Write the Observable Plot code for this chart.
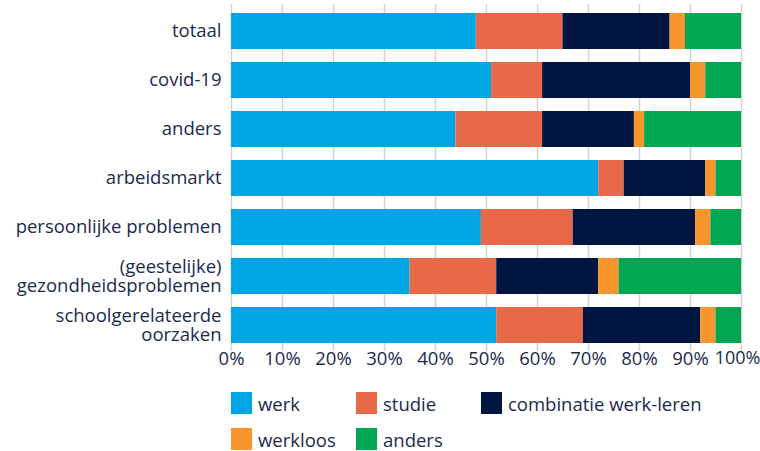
<!DOCTYPE html>
<html>
<head>
<meta charset="utf-8">
<script src="https://cdn.jsdelivr.net/npm/d3@7"></script>
<script src="https://cdn.jsdelivr.net/npm/@observablehq/plot@0.6"></script>
<style>
  html, body { margin: 0; padding: 0; background: #fff; }
  body { width: 760px; height: 451px; overflow: hidden; font-family: "Open Sans", sans-serif; color: #1b2a4e; }
  #chart { position: absolute; left: 0; top: 0; }
  #legend { position: absolute; left: 231px; top: 392px; width: 520px; display: flex; flex-wrap: wrap; row-gap: 14px; }
  .item { width: 125px; display: flex; align-items: center; font-size: 18.5px; height: 22px; white-space: nowrap; }
  .item.wide { width: 250px; }
  .sw { width: 21px; height: 22px; margin-right: 6px; flex: none; }
</style>
</head>
<body>
<div id="chart"></div>
<div id="legend"></div>
<script>
const categories = ["totaal", "covid-19", "anders", "arbeidsmarkt", "persoonlijke problemen", "(geestelijke)\ngezondheidsproblemen", "schoolgerelateerde\noorzaken"];
const seriesNames = ["werk", "studie", "combinatie werk-leren", "werkloos", "anders"];
const seriesColors = ["#00a5e3", "#e8694a", "#001540", "#f7952f", "#00a651"];
const werk      = [48, 51, 44, 72, 49, 35, 52];
const studie    = [17, 10, 17, 5, 18, 17, 17];
const combinatie= [21, 29, 18, 16, 24, 20, 23];
const werkloos  = [3, 3, 2, 2, 3, 4, 3];
const andersS   = [11, 7, 19, 5, 6, 24, 5];
const xTicks = [0, 10, 20, 30, 40, 50, 60, 70, 80, 90, 100];

const seriesValues = [werk, studie, combinatie, werkloos, andersS];
const data = [];
categories.forEach((c, i) => {
  seriesNames.forEach((s, j) => data.push({category: c, series: s, value: seriesValues[j][i]}));
});

const chart = Plot.plot({
  width: 760,
  height: 374,
  marginLeft: 231,
  marginRight: 19,
  marginTop: 4,
  marginBottom: 23,
  style: {fontFamily: "Open Sans, sans-serif", fontSize: "18.5px", color: "#1b2a4e", background: "#fff"},
  x: {domain: [0, 100], ticks: xTicks, tickFormat: d => d + "%", tickSize: 0, tickPadding: 0, label: null},
  y: {domain: categories, paddingInner: 0.27, paddingOuter: 0.135, tickSize: 0, tickPadding: 10, label: null},
  color: {domain: seriesNames, range: seriesColors},
  marks: [
    Plot.gridX(xTicks, {stroke: "#d2d2d2", strokeOpacity: 1, strokeWidth: 1.5}),
    Plot.barX(data, {x: "value", y: "category", fill: "series", order: seriesNames}),
    Plot.axisY({tickSize: 0, tickPadding: 10, fontSize: 18.5, lineHeight: 1.0, fill: "#1b2a4e"}),
    Plot.axisX(xTicks.slice(0, -1), {tickFormat: d => d + "%", tickSize: 0, tickPadding: 0, fontSize: 18.5, fill: "#1b2a4e"}),
    Plot.axisX(xTicks.slice(-1), {tickFormat: d => d + "%", tickSize: 0, tickPadding: 0, fontSize: 18, dx: -4, fill: "#1b2a4e"})
  ]
});
document.getElementById("chart").appendChild(chart);

const legend = document.getElementById("legend");
seriesNames.forEach((s, i) => {
  const it = document.createElement("div");
  it.className = "item" + (i === 2 ? " wide" : "");
  const sw = document.createElement("span");
  sw.className = "sw";
  sw.style.background = seriesColors[i];
  const t = document.createElement("span");
  t.textContent = s;
  it.appendChild(sw); it.appendChild(t);
  legend.appendChild(it);
});
</script>
</body>
</html>
